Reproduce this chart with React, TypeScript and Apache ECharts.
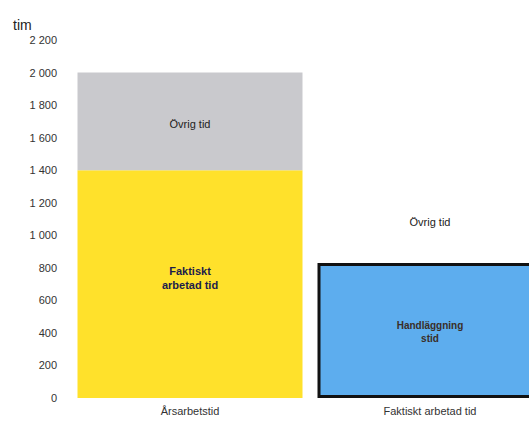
import React, { useEffect, useRef } from "react";
import * as echarts from "echarts";

const categories = ["Årsarbetstid", "Faktiskt arbetad tid"];
const arbetadTid = [1400, null];
const handlaggningstid = [null, 830];
const ovrigTid1 = [600, null];
const ovrigTid2 = [null, 570];
const yTicks = { min: 0, max: 2200, interval: 200 };

export default function App() {
  const ref = useRef<HTMLDivElement>(null);
  useEffect(() => {
    const chart = echarts.init(ref.current!, null, { renderer: "svg" });
    const font = "'Liberation Sans', Arial, sans-serif";
    chart.setOption({
      animation: false,
      backgroundColor: "#ffffff",
      textStyle: { fontFamily: font },
      grid: {
        left: 70,
        width: 480,
        top: 40,
        bottom: 30,
        containLabel: false,
        outerBoundsMode: "none",
      },
      title: {
        text: "tim",
        left: 8,
        top: 13,
        textStyle: { fontSize: 14, fontWeight: "normal", color: "#222", fontFamily: font },
      },
      xAxis: {
        type: "category",
        data: categories,
        axisLine: { show: false },
        axisTick: { show: false },
        axisLabel: { color: "#333", fontSize: 11, margin: 7, fontFamily: font },
      },
      yAxis: {
        type: "value",
        min: yTicks.min,
        max: yTicks.max,
        interval: yTicks.interval,
        splitLine: { show: false },
        axisLine: { show: false },
        axisTick: { show: false },
        axisLabel: {
          color: "#333",
          fontSize: 11,
          margin: 13,
          fontFamily: font,
          formatter: (v: number) => String(v).replace(/\B(?=(\d{3})+(?!\d))/g, " "),
        },
      },
      series: [
        {
          name: "Faktiskt arbetad tid",
          type: "bar",
          stack: "s",
          barWidth: 225,
          data: arbetadTid,
          itemStyle: { color: "#ffe12b" },
          label: {
            show: true,
            position: "inside",
            offset: [0, -6],
            formatter: "Faktiskt\narbetad tid",
            color: "#1c1c4a",
            fontWeight: "bold",
            fontSize: 11,
            lineHeight: 14,
            fontFamily: font,
          },
        },
        {
          name: "Handläggningstid",
          type: "bar",
          stack: "s",
          barWidth: 225,
          data: handlaggningstid,
          itemStyle: { color: "#5dadee", borderColor: "#111", borderWidth: 3 },
          label: {
            show: true,
            position: "inside",
            offset: [0, 2],
            formatter: "Handläggning\nstid",
            color: "#3a2e28",
            fontWeight: "bold",
            fontSize: 10,
            lineHeight: 13,
            fontFamily: font,
          },
        },
        {
          name: "Övrig tid",
          type: "bar",
          stack: "s",
          barWidth: 225,
          data: ovrigTid1,
          itemStyle: { color: "#c9c9cd" },
          label: {
            show: true,
            position: "inside",
            offset: [0, 3],
            formatter: "Övrig tid",
            color: "#222",
            fontSize: 11,
            fontFamily: font,
          },
        },
        {
          name: "Övrig tid ",
          type: "bar",
          stack: "s",
          barWidth: 225,
          data: ovrigTid2,
          itemStyle: { color: "rgba(255,255,255,0)" },
          label: {
            show: true,
            position: "inside",
            offset: [0, 5],
            formatter: "Övrig tid",
            color: "#222",
            fontSize: 11,
            fontFamily: font,
          },
        },
      ],
    });
    return () => chart.dispose();
  }, []);
  return (
    <div
      ref={ref}
      style={{ position: "fixed", left: 0, top: 0, width: 529, height: 428 }}
    />
  );
}
